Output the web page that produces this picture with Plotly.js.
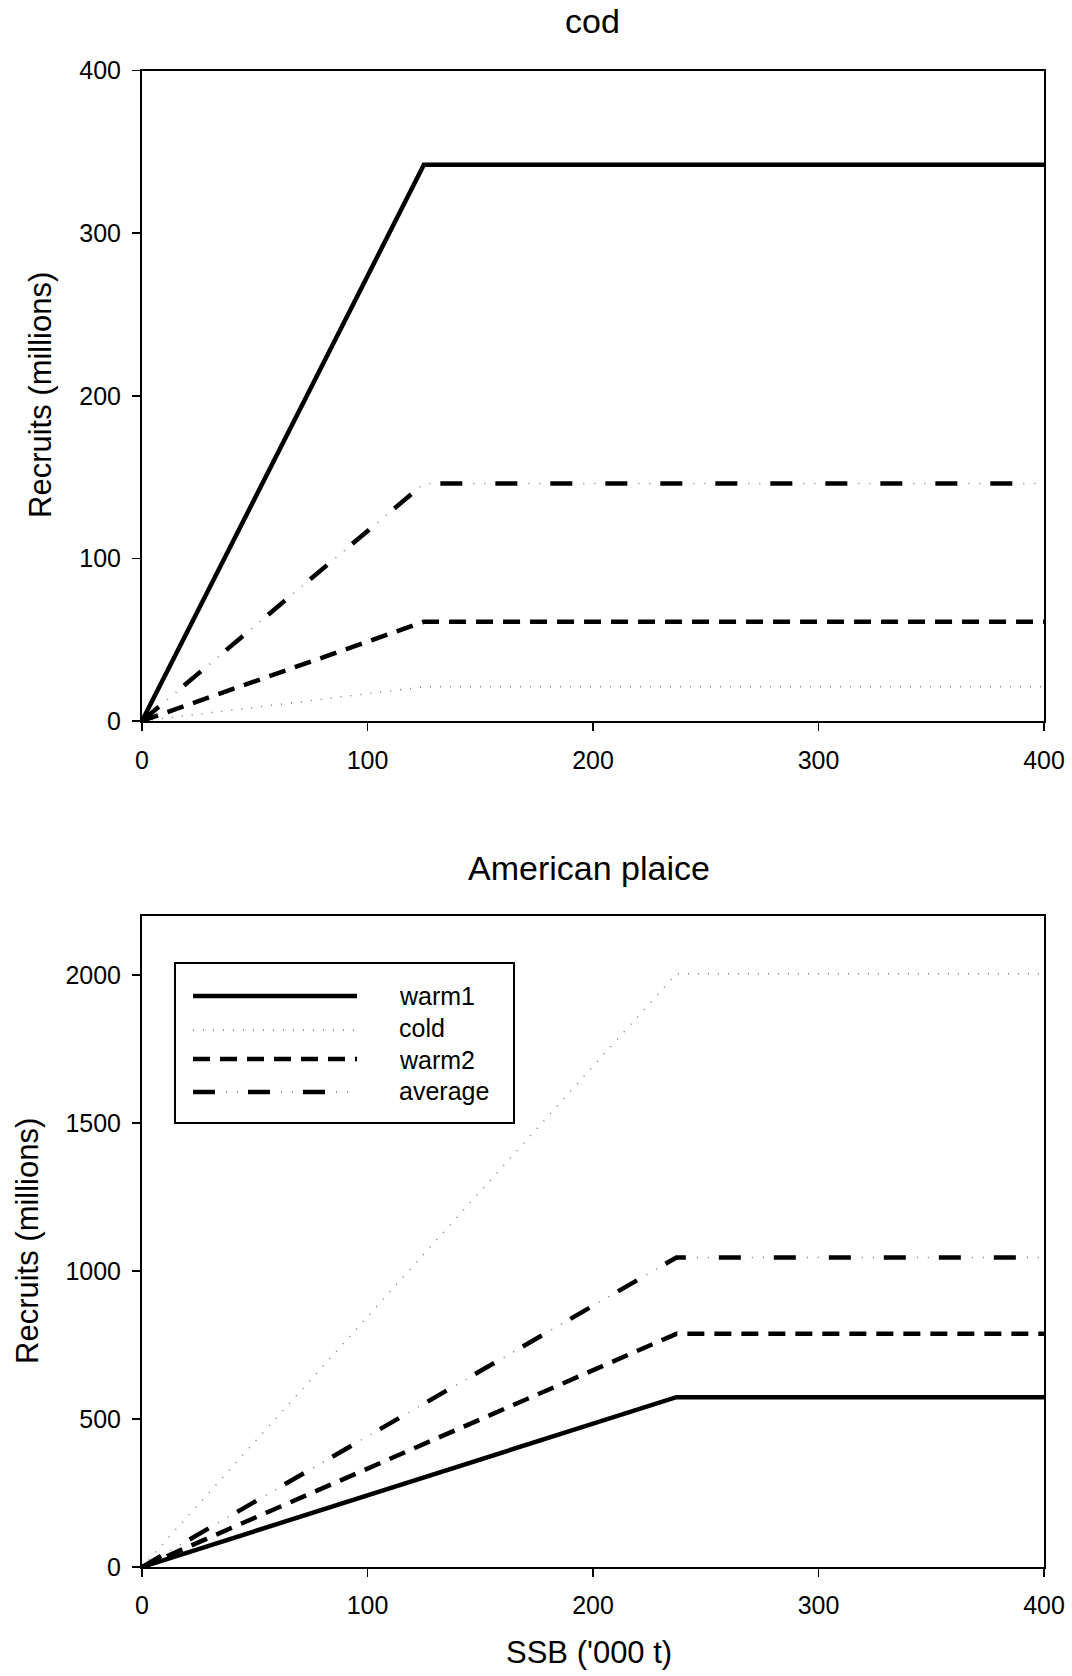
<!DOCTYPE html>
<html>
<head>
<meta charset="utf-8">
<script src="https://cdn.plot.ly/plotly-3.0.1.min.js"></script>
<style>
  html, body { margin: 0; padding: 0; background: #ffffff; }
  #chart { width: 1072px; height: 1676px; }
</style>
</head>
<body>
<div id="chart"></div>
<script>
// ---- Data ----
var seriesNames = ["warm1", "cold", "warm2", "average"];
var panelTitles = ["cod", "American plaice"];
var xTickVals = [0, 100, 200, 300, 400];

// cod: SSB ('000 t) breakpoints and recruits (millions)
var ssbCod = [0, 125, 400];
var codWarm1 = [0, 342, 342];
var codCold = [0, 21, 21];
var codWarm2 = [0, 61, 61];
var codAverage = [0, 146, 146];
var codYTicks = [0, 100, 200, 300, 400];

// American plaice
var ssbPlaice = [0, 237, 400];
var plaiceWarm1 = [0, 574, 574];
var plaiceCold = [0, 2005, 2005];
var plaiceWarm2 = [0, 788, 788];
var plaiceAverage = [0, 1046, 1046];
var plaiceYTicks = [0, 500, 1000, 1500, 2000];

// ---- Styles ----
var FONT = "Liberation Sans, Arial, Helvetica, sans-serif";
var W = 1072, H = 1676;
function px(x) { return x / W; }
function py(y) { return 1 - y / H; }

var styles = {
  warm1:   { color: "#000000", width: 4.5, dash: "solid" },
  cold:    { color: "#777777", width: 1.5, dash: "1px,9px" },
  warm2:   { color: "#000000", width: 4.5, dash: "17px,10px" },
  average: { color: "#000000", width: 4.5, dash: "22px,33px" },
  averageDots: { color: "#777777", width: 1.5, dash: "0px,33px,1px,10px,1px,10px" }
};

function mk(x, y, key, xa, ya, name) {
  return {
    type: "scatter", mode: "lines", x: x, y: y, xaxis: xa, yaxis: ya,
    name: name, showlegend: false, hoverinfo: "skip",
    line: { color: styles[key].color, width: styles[key].width, dash: styles[key].dash, shape: "linear" }
  };
}

var codSeries = [codWarm1, codCold, codWarm2, codAverage];
var plaiceSeries = [plaiceWarm1, plaiceCold, plaiceWarm2, plaiceAverage];

var traces = [];
// draw order: cold (under), warm1, warm2, average
[1, 0, 2, 3].forEach(function (i) {
  traces.push(mk(ssbCod, codSeries[i], seriesNames[i], "x", "y", seriesNames[i]));
  if (seriesNames[i] === "average") traces.push(mk(ssbCod, codSeries[i], "averageDots", "x", "y", "average"));
});
[1, 0, 2, 3].forEach(function (i) {
  traces.push(mk(ssbPlaice, plaiceSeries[i], seriesNames[i], "x2", "y2", seriesNames[i]));
  if (seriesNames[i] === "average") traces.push(mk(ssbPlaice, plaiceSeries[i], "averageDots", "x2", "y2", "average"));
});

function xAxis(anchor, standoff) {
  return {
    domain: [px(142), px(1044)], anchor: anchor, range: [0, 400],
    tickmode: "array", tickvals: xTickVals,
    ticks: "outside", ticklen: 8, tickwidth: 1.5, tickcolor: "#000",
    showline: true, linewidth: 2, linecolor: "#000", mirror: true,
    showgrid: false, zeroline: false, fixedrange: true,
    ticklabelstandoff: standoff,
    tickfont: { family: FONT, size: 25, color: "#000" }
  };
}
function yAxis(anchor, range, ticks, top, bottom) {
  return {
    domain: [py(bottom), py(top)], anchor: anchor, range: range,
    tickmode: "array", tickvals: ticks,
    ticks: "outside", ticklen: 8, tickwidth: 1.5, tickcolor: "#000",
    showline: true, linewidth: 2, linecolor: "#000", mirror: true,
    showgrid: false, zeroline: false, fixedrange: true,
    ticklabelstandoff: 6,
    tickfont: { family: FONT, size: 25, color: "#000" }
  };
}

// ---- Custom legend (box, sample lines, labels) ----
var legRows = [996, 1030, 1059, 1092];
var legText = [996, 1028, 1060, 1091];
var shapes = [{
  type: "rect", xref: "paper", yref: "paper",
  x0: px(175), x1: px(514), y0: py(1123), y1: py(963),
  line: { color: "#000", width: 2 }, fillcolor: "rgba(255,255,255,1)", layer: "above"
}];
var annotations = [];
seriesNames.forEach(function (nm, i) {
  var keys = nm === "average" ? ["average", "averageDots"] : [nm];
  keys.forEach(function (k) {
    shapes.push({
      type: "line", xref: "paper", yref: "paper",
      x0: px(193), x1: px(357), y0: py(legRows[i]), y1: py(legRows[i]),
      line: { color: styles[k].color, width: styles[k].width, dash: styles[k].dash },
      layer: "above"
    });
  });
  annotations.push({
    xref: "paper", yref: "paper", x: px(397), y: py(legText[i]),
    xanchor: "left", yanchor: "middle", showarrow: false, text: nm,
    font: { family: FONT, size: 25, color: "#000" }
  });
});

// titles
annotations.push({
  xref: "paper", yref: "paper", x: px(593), y: py(21), xanchor: "center", yanchor: "middle",
  showarrow: false, text: panelTitles[0], font: { family: FONT, size: 34, color: "#000" }
});
annotations.push({
  xref: "paper", yref: "paper", x: px(589), y: py(868), xanchor: "center", yanchor: "middle",
  showarrow: false, text: panelTitles[1], font: { family: FONT, size: 34, color: "#000" }
});
annotations.push({
  xref: "paper", yref: "paper", x: px(40), y: py(395), xanchor: "center", yanchor: "middle",
  showarrow: false, text: "Recruits (millions)", textangle: -90,
  font: { family: FONT, size: 31, color: "#000" }
});
annotations.push({
  xref: "paper", yref: "paper", x: px(27), y: py(1241), xanchor: "center", yanchor: "middle",
  showarrow: false, text: "Recruits (millions)", textangle: -90,
  font: { family: FONT, size: 31, color: "#000" }
});
annotations.push({
  xref: "paper", yref: "paper", x: px(589), y: py(1652), xanchor: "center", yanchor: "middle",
  showarrow: false, text: "SSB ('000 t)", font: { family: FONT, size: 31, color: "#000" }
});

var layout = {
  width: W, height: H,
  margin: { l: 0, r: 0, t: 0, b: 0, pad: 0 },
  paper_bgcolor: "#ffffff", plot_bgcolor: "#ffffff",
  showlegend: false,
  font: { family: FONT, size: 25, color: "#000" },
  xaxis: xAxis("y", 8),
  yaxis: yAxis("x", [0, 400], codYTicks, 70.5, 721),
  xaxis2: xAxis("y2", 7),
  yaxis2: yAxis("x2", [0, 2200], plaiceYTicks, 916, 1567),
  shapes: shapes,
  annotations: annotations
};

Plotly.newPlot("chart", traces, layout, { displayModeBar: false, staticPlot: true });
</script>
</body>
</html>
